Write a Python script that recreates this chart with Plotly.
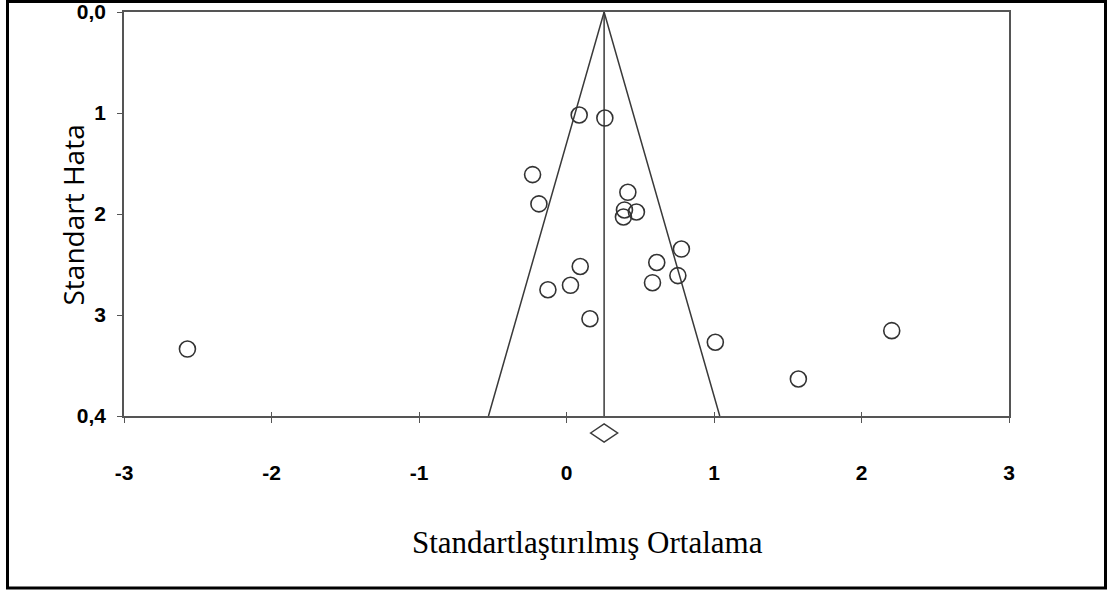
import plotly.graph_objects as go

# Study effects (standardised mean difference) and their standard errors
effect_sizes = [0.086, 0.260, -0.230, -0.187, 0.416, 0.393, 0.474, 0.386, 0.779, 0.612,
                0.093, 0.755, 0.027, 0.583, -0.126, 0.159, 1.009, -2.570, 2.205, 1.572]
standard_errors = [0.102, 0.105, 0.161, 0.190, 0.1785, 0.196, 0.198, 0.203, 0.2347, 0.248,
                   0.252, 0.261, 0.2706, 0.268, 0.275, 0.3037, 0.327, 0.3337, 0.3155, 0.3634]
pooled_mean = 0.255
z_crit = 1.96

x_tick_vals = [-3, -2, -1, 0, 1, 2, 3]
x_tick_text = ["-3", "-2", "-1", "0", "1", "2", "3"]
y_tick_vals = [0.0, 0.1, 0.2, 0.3, 0.4]
y_tick_text = ["0,0", "1", "2", "3", "0,4"]

W, H = 1110, 590
L, R, T, B = 124, 1009, 12, 416  # plot area in pixels


def px(xp):
    return (xp - L) / (R - L)


def py(yp):
    return (B - yp) / (B - T)


line_col = "#3a3a3a"
se_max = y_tick_vals[-1]

fig = go.Figure()

# funnel (pseudo confidence limits)
fig.add_trace(go.Scatter(
    x=[pooled_mean - z_crit * se_max, pooled_mean, pooled_mean + z_crit * se_max],
    y=[se_max, 0.0, se_max],
    mode="lines", line=dict(color=line_col, width=1.5), hoverinfo="skip", showlegend=False))

# pooled estimate line
fig.add_trace(go.Scatter(
    x=[pooled_mean, pooled_mean], y=[0.0, se_max],
    mode="lines", line=dict(color=line_col, width=1.5), hoverinfo="skip", showlegend=False))

# studies
fig.add_trace(go.Scatter(
    x=effect_sizes, y=standard_errors, mode="markers",
    marker=dict(symbol="circle-open", size=16, color="#333333", line=dict(width=1.6)),
    showlegend=False, cliponaxis=False))

# empty trace carrying the inner half of the x ticks
fig.add_trace(go.Scatter(x=[], y=[], xaxis="x2", showlegend=False))

# pooled estimate diamond under the axis
dw = 0.0915
y_top, y_mid, y_bot = py(424), py(433), py(442)
fig.add_shape(type="path", xref="x", yref="paper",
              path=(f"M {pooled_mean - dw},{y_mid} L {pooled_mean},{y_top} "
                    f"L {pooled_mean + dw},{y_mid} L {pooled_mean},{y_bot} Z"),
              line=dict(color=line_col, width=1.5), fillcolor="white")

# outer frame
fig.add_shape(type="rect", xref="paper", yref="paper",
              x0=px(7.5), x1=px(1105.5), y0=py(588), y1=py(1.5),
              line=dict(color="black", width=3), layer="above")

tick_font = dict(family="Liberation Sans, Arial", size=21, color="black", weight="bold")

fig.update_layout(
    width=W, height=H,
    margin=dict(l=L, r=W - R, t=T, b=H - B, autoexpand=False),
    paper_bgcolor="white", plot_bgcolor="white",
    xaxis=dict(range=[-3, 3], tickvals=x_tick_vals, ticktext=x_tick_text,
               showgrid=False, zeroline=False, showline=True, mirror=True,
               linecolor="#555555", linewidth=1.5, automargin=False,
               ticks="outside", ticklen=5, tickwidth=1.2, tickcolor="#555555",
               tickfont=tick_font, ticklabelstandoff=32),
    xaxis2=dict(range=[-3, 3], tickvals=x_tick_vals, overlaying="x", anchor="y",
                side="bottom", showgrid=False, zeroline=False, showline=False,
                showticklabels=False, ticks="inside", ticklen=4, tickwidth=1.2,
                tickcolor="#555555", automargin=False),
    yaxis=dict(range=[0.4, 0.0], tickvals=y_tick_vals, ticktext=y_tick_text,
               showgrid=False, zeroline=False, showline=True, mirror=True,
               linecolor="#555555", linewidth=1.5, automargin=False,
               ticks="outside", ticklen=5, tickwidth=1.2, tickcolor="#555555",
               tickfont=tick_font, ticklabelstandoff=7),
    annotations=[
        dict(text="Standart Hata", textangle=-90, xref="paper", yref="paper",
             x=px(72.5), y=py(215), xanchor="center", yanchor="middle", showarrow=False,
             font=dict(family="Open Sans", size=28, color="black")),
        dict(text="Standartlaştırılmış Ortalama", xref="paper", yref="paper",
             x=px(587), y=py(542), xanchor="center", yanchor="middle", showarrow=False,
             font=dict(family="Liberation Serif, Times New Roman", size=31, color="black")),
    ],
)

fig.write_html("out.html")
